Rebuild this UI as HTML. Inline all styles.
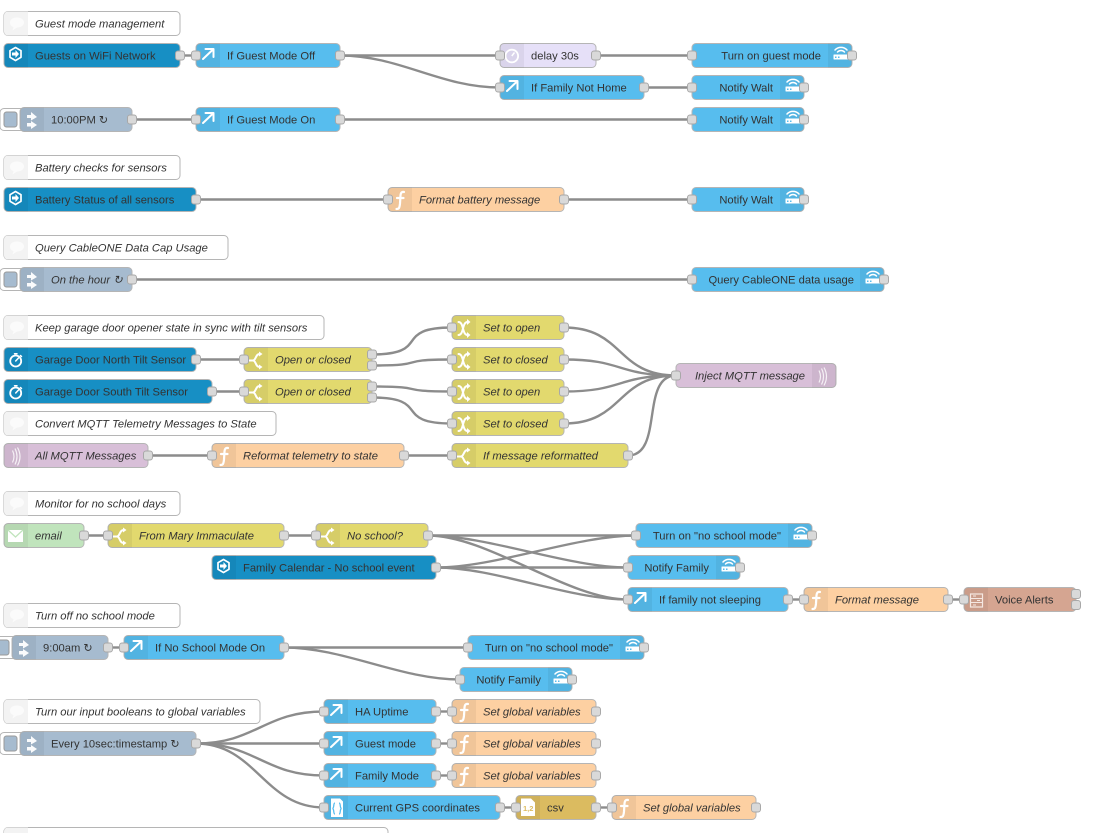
<!DOCTYPE html>
<html><head><meta charset="utf-8">
<style>
html,body{margin:0;padding:0;background:#fff;overflow:hidden}
svg{display:block;font-family:"Liberation Sans",Arial,sans-serif;font-size:11.2px;filter:blur(.3px)}
.w{fill:none;stroke:#8c8c8c;stroke-width:2.4}
.b{stroke:#b5b5b5;stroke-width:1}
text{fill:#333}
.i{font-style:italic}
.e{text-anchor:end}
.lb{fill:#57bdee}.db{fill:#178fc4}.ij{fill:#a6bbcf}.ye{fill:#e2d96e}.or{fill:#fdd0a2}.pu{fill:#d8bfd8}.gr{fill:#c0e4bc}.cm{fill:#fff}.de{fill:#e6e0f8}.cs{fill:#dbbb60}.vo{fill:#d5a591}
.p{fill:#d9d9d9;stroke:#a8a8a8;stroke-width:1}
.s{fill:none;stroke:#fff;stroke-linecap:round;stroke-linejoin:round}
</style></head><body>
<svg width="1096" height="833" viewBox="0 0 1096 833" xmlns="http://www.w3.org/2000/svg">
<defs>
<rect id="p" class="p" x="-4.500" y="-4.500" width="9" height="9" rx="2.500"/>
<path id="z" d="M4,-12H24V12H4A4,4 0 0 1 0,8V-8A4,4 0 0 1 4,-12Z" fill="#000" fill-opacity=".05"/>
<path id="zr" d="M0,-12H20A4,4 0 0 1 24,-8V8A4,4 0 0 1 20,12H0Z" fill="#000" fill-opacity=".05"/>
<g id="arrow"><use href="#z"/><path class="s" stroke-width="2" d="M7,3.500L17,-6M9.500,-6.500H17.500V1.500"/></g>
<g id="hex"><use href="#z"/><path class="s" stroke-width="1.700" d="M11.500,-8L17,-4.800V1.800L11.500,5L6,1.800V-4.800Z"/><path d="M8,-3H11.500V-5.500L15,-1.500L11.500,2.500V0H8Z" fill="#fff"/></g>
<g id="timer"><use href="#z"/><circle class="s" stroke-width="1.800" cx="11.700" cy="1.500" r="5.500"/><path class="s" stroke-width="1.500" d="M11.700,1.500L14.500,-1.500M10.500,-5.800H13M16.500,-4L17.500,-3"/></g>
<g id="inject"><use href="#z"/><path d="M7,-4.500H11V-7.500L17,-2.500L11,1V-1.500H7ZM7,3.500H11V1.500L17,5.500L11,9.500V7H7Z" fill="#fff" opacity=".95"/></g>
<g id="func"><use href="#z"/><path class="s" stroke-width="2.200" d="M8.500,9.500C11,9.500 11.500,8.500 12,4L12.500,-4C12.800,-7 14,-8 16,-7.500M9,-1.500H15.500"/></g>
<g id="switch"><use href="#z"/><path class="s" stroke-width="2" d="M5,1H9C12,1 11.500,-5.500 15.500,-5.500M9,1C12,1 11.500,7.500 15.500,7.500"/><path d="M15,-8L18.500,-5.500L15,-3ZM15,5L18.500,7.500L15,10Z" fill="#fff"/></g>
<g id="change"><use href="#z"/><path class="s" stroke-width="2" d="M6.500,-5.500C12,-5.500 10,7.500 15.500,7.500M6.500,7.500C12,7.500 10,-5.500 15.500,-5.500"/><path d="M15,-8.500L18.500,-5.500L15,-2.500ZM15,4.500L18.500,7.500L15,10.500Z" fill="#fff"/></g>
<g id="delay"><use href="#z"/><circle cx="11.800" cy="0.500" r="6.300" fill="none" stroke="#fff" stroke-width="1.800"/><path d="M11.800,0.500L14.500,-3" stroke="#fff" stroke-width="1.500" fill="none"/></g>
<g id="comm"><path d="M4,-12H24V12H4A4,4 0 0 1 0,8V-8A4,4 0 0 1 4,-12Z" fill="#f3f3f3"/><path d="M6,-1C6,-4.500 9.500,-6 13,-6C17,-6 20,-4 20,-1C20,2 17,4 13,4L8.500,7L9.500,3.500C7,3 6,1 6,-1Z" fill="#fbfbfb"/></g>
<g id="wifi"><use href="#zr"/><path class="s" stroke-width="1.500" d="M7,-5.500C10,-9 16,-9 19,-5.500M9.500,-3.500C11.500,-5.500 14.500,-5.500 16.500,-3.500"/><rect x="5.500" y="-1" width="15" height="5" rx=".5" fill="#fff"/><rect x="7" y="1" width="1.500" height="1.500" fill="#57bdee"/><rect x="10" y="1" width="1.500" height="1.500" fill="#57bdee"/></g>
<g id="radio"><use href="#z"/><path d="M8.500,-5Q11.500,1 8.500,7M11,-7Q15,1 11,9M13.500,-8Q18.500,1 13.500,10" fill="none" stroke="#fff" stroke-width="1.200" opacity=".8"/></g>
<g id="radior"><use href="#zr"/><path d="M7,-5Q10,1 7,7M9.500,-7Q13.500,1 9.500,9M12,-8Q17,1 12,10" fill="none" stroke="#fff" stroke-width="1.200" opacity=".8"/></g>
<g id="mail"><use href="#z"/><rect x="4" y="-5.500" width="15" height="12" fill="#fff"/><path d="M4,-5.500L11.500,1.500L19,-5.500" fill="none" stroke="#c0e4bc" stroke-width="1.300"/></g>
<g id="json"><use href="#z"/><path d="M7,-9H16L19,-6V9.500H7Z" fill="#fff"/><path d="M11,-4.500C9,-4.500 10.500,0.500 8.500,1C10.500,1.500 9,6.500 11,6.500M15,-4.500C17,-4.500 15.500,0.500 17.500,1C15.500,1.500 17,6.500 15,6.500" fill="none" stroke="#57bdee" stroke-width="1.300"/></g>
<g id="csvi"><use href="#z"/><path d="M5,-9H15L19,-5V8.500H5Z" fill="#fff"/></g>
<g id="voice"><use href="#z"/><rect x="6.500" y="-5.500" width="12" height="13" fill="none" stroke="#f5e8e2" stroke-width="1.200"/><path d="M6.500,-1H18.500M6.500,3H18.500M9,-3.500H12M13,1H16M9,5.500H12" stroke="#f5e8e2" stroke-width="1" fill="none"/></g>
</defs>
<g transform="translate(0,.5)">
<!-- wires -->
<g class="w">
<path d="M180 55H196"/>
<path d="M340 55H500"/>
<path d="M340 55C400 55 440 87 500 87"/>
<path d="M596 55H692"/>
<path d="M644 87H692"/>
<path d="M132 119H196"/>
<path d="M340 119H692"/>
<path d="M196 199H388"/>
<path d="M564 199H692"/>
<path d="M132 279H692"/>
<path d="M196 359H244"/>
<path d="M212 391H244"/>
<path d="M372 354C432 354 392 327 452 327"/>
<path d="M372 365C432 365 392 359 452 359"/>
<path d="M372 386C432 386 392 391 452 391"/>
<path d="M372 397C432 397 392 423 452 423"/>
<path d="M564 327C624 327 616 375 676 375"/>
<path d="M564 359C624 359 616 375 676 375"/>
<path d="M564 391C624 391 616 375 676 375"/>
<path d="M564 423C624 423 616 375 676 375"/>
<path d="M628 455C664 455 640 375 676 375"/>
<path d="M148 455H212"/>
<path d="M404 455H452"/>
<path d="M84 535H108"/>
<path d="M284 535H316"/>
<path d="M428 535H636"/>
<path d="M428 535C488 535 568 567 628 567"/>
<path d="M428 535C488 535 568 599 628 599"/>
<path d="M436 567C496 567 576 535 636 535"/>
<path d="M436 567H628"/>
<path d="M436 567C496 567 568 599 628 599"/>
<path d="M788 599H804"/>
<path d="M948 599H964"/>
<path d="M108 647H124"/>
<path d="M284 647H468"/>
<path d="M284 647C344 647 400 679 460 679"/>
<path d="M196 743C256 743 264 711 324 711"/>
<path d="M196 743H324"/>
<path d="M196 743C256 743 264 775 324 775"/>
<path d="M196 743C256 743 264 807 324 807"/>
<path d="M436 711H452"/>
<path d="M436 743H452"/>
<path d="M436 775H452"/>
<path d="M500 807H516"/>
<path d="M596 807H612"/>
</g>
<!-- comments -->
<g transform="translate(4,23)"><rect class="cm b" y="-12" width="176" height="24" rx="4"/><use href="#comm"/><text class="i" x="31" y="4">Guest mode management</text></g>
<g transform="translate(4,167)"><rect class="cm b" y="-12" width="176" height="24" rx="4"/><use href="#comm"/><text class="i" x="31" y="4">Battery checks for sensors</text></g>
<g transform="translate(4,247)"><rect class="cm b" y="-12" width="224" height="24" rx="4"/><use href="#comm"/><text class="i" x="31" y="4">Query CableONE Data Cap Usage</text></g>
<g transform="translate(4,327)"><rect class="cm b" y="-12" width="320" height="24" rx="4"/><use href="#comm"/><text class="i" x="31" y="4">Keep garage door opener state in sync with tilt sensors</text></g>
<g transform="translate(4,423)"><rect class="cm b" y="-12" width="272" height="24" rx="4"/><use href="#comm"/><text class="i" x="31" y="4">Convert MQTT Telemetry Messages to State</text></g>
<g transform="translate(4,503)"><rect class="cm b" y="-12" width="176" height="24" rx="4"/><use href="#comm"/><text class="i" x="31" y="4">Monitor for no school days</text></g>
<g transform="translate(4,615)"><rect class="cm b" y="-12" width="176" height="24" rx="4"/><use href="#comm"/><text class="i" x="31" y="4">Turn off no school mode</text></g>
<g transform="translate(4,711)"><rect class="cm b" y="-12" width="256" height="24" rx="4"/><use href="#comm"/><text class="i" x="31" y="4">Turn our input booleans to global variables</text></g>
<g transform="translate(4,839)"><rect class="cm b" y="-12" width="384" height="24" rx="4"/><use href="#comm"/></g>
<!-- row 55 -->
<g transform="translate(4,55)"><rect class="db b" y="-12" width="176" height="24" rx="4"/><use href="#hex"/><text x="31" y="4">Guests on WiFi Network</text><use href="#p" x="176"/></g>
<g transform="translate(196,55)"><rect class="lb b" y="-12" width="144" height="24" rx="4"/><use href="#arrow"/><text x="31" y="4">If Guest Mode Off</text><use href="#p"/><use href="#p" x="144"/></g>
<g transform="translate(500,55)"><rect class="de b" y="-12" width="96" height="24" rx="4"/><use href="#delay"/><text x="31" y="4">delay 30s</text><use href="#p"/><use href="#p" x="96"/></g>
<g transform="translate(692,55)"><rect class="lb b" y="-12" width="160" height="24" rx="4"/><use href="#wifi" x="136"/><text class="e" x="129" y="4">Turn on guest mode</text><use href="#p"/><use href="#p" x="160"/></g>
<!-- row 87 -->
<g transform="translate(500,87)"><rect class="lb b" y="-12" width="144" height="24" rx="4"/><use href="#arrow"/><text x="31" y="4">If Family Not Home</text><use href="#p"/><use href="#p" x="144"/></g>
<g transform="translate(692,87)"><rect class="lb b" y="-12" width="112" height="24" rx="4"/><use href="#wifi" x="88"/><text class="e" x="81" y="4">Notify Walt</text><use href="#p"/><use href="#p" x="112"/></g>
<!-- row 119 -->
<g transform="translate(20,119)"><rect x="-20" y="-11" width="26" height="22" rx="4" fill="#fff" stroke="#b5b5b5"/><rect x="-16" y="-7.500" width="13" height="15" rx="2.500" class="ij" stroke="#999"/><rect class="ij b" y="-12" width="112" height="24" rx="4"/><use href="#inject"/><text x="31" y="4">10:00PM ↻</text><use href="#p" x="112"/></g>
<g transform="translate(196,119)"><rect class="lb b" y="-12" width="144" height="24" rx="4"/><use href="#arrow"/><text x="31" y="4">If Guest Mode On</text><use href="#p"/><use href="#p" x="144"/></g>
<g transform="translate(692,119)"><rect class="lb b" y="-12" width="112" height="24" rx="4"/><use href="#wifi" x="88"/><text class="e" x="81" y="4">Notify Walt</text><use href="#p"/><use href="#p" x="112"/></g>
<!-- row 199 -->
<g transform="translate(4,199)"><rect class="db b" y="-12" width="192" height="24" rx="4"/><use href="#hex"/><text x="31" y="4">Battery Status of all sensors</text><use href="#p" x="192"/></g>
<g transform="translate(388,199)"><rect class="or b" y="-12" width="176" height="24" rx="4"/><use href="#func"/><text class="i" x="31" y="4">Format battery message</text><use href="#p"/><use href="#p" x="176"/></g>
<g transform="translate(692,199)"><rect class="lb b" y="-12" width="112" height="24" rx="4"/><use href="#wifi" x="88"/><text class="e" x="81" y="4">Notify Walt</text><use href="#p"/><use href="#p" x="112"/></g>
<!-- row 279 -->
<g transform="translate(20,279)"><rect x="-20" y="-11" width="26" height="22" rx="4" fill="#fff" stroke="#b5b5b5"/><rect x="-16" y="-7.500" width="13" height="15" rx="2.500" class="ij" stroke="#999"/><rect class="ij b" y="-12" width="112" height="24" rx="4"/><use href="#inject"/><text class="i" x="31" y="4">On the hour ↻</text><use href="#p" x="112"/></g>
<g transform="translate(692,279)"><rect class="lb b" y="-12" width="192" height="24" rx="4"/><use href="#wifi" x="168"/><text class="e" x="162" y="4">Query CableONE data usage</text><use href="#p"/><use href="#p" x="192"/></g>
<!-- garage -->
<g transform="translate(4,359)"><rect class="db b" y="-12" width="192" height="24" rx="4"/><use href="#timer"/><text x="31" y="4">Garage Door North Tilt Sensor</text><use href="#p" x="192"/></g>
<g transform="translate(244,359)"><rect class="ye b" y="-12" width="128" height="24" rx="4"/><use href="#switch"/><text class="i" x="31" y="4">Open or closed</text><use href="#p"/><use href="#p" x="128" y="-5"/><use href="#p" x="128" y="6"/></g>
<g transform="translate(4,391)"><rect class="db b" y="-12" width="208" height="24" rx="4"/><use href="#timer"/><text x="31" y="4">Garage Door South Tilt Sensor</text><use href="#p" x="208"/></g>
<g transform="translate(244,391)"><rect class="ye b" y="-12" width="128" height="24" rx="4"/><use href="#switch"/><text class="i" x="31" y="4">Open or closed</text><use href="#p"/><use href="#p" x="128" y="-5"/><use href="#p" x="128" y="6"/></g>
<g transform="translate(452,327)"><rect class="ye b" y="-12" width="112" height="24" rx="4"/><use href="#change"/><text class="i" x="31" y="4">Set to open</text><use href="#p"/><use href="#p" x="112"/></g>
<g transform="translate(452,359)"><rect class="ye b" y="-12" width="112" height="24" rx="4"/><use href="#change"/><text class="i" x="31" y="4">Set to closed</text><use href="#p"/><use href="#p" x="112"/></g>
<g transform="translate(452,391)"><rect class="ye b" y="-12" width="112" height="24" rx="4"/><use href="#change"/><text class="i" x="31" y="4">Set to open</text><use href="#p"/><use href="#p" x="112"/></g>
<g transform="translate(452,423)"><rect class="ye b" y="-12" width="112" height="24" rx="4"/><use href="#change"/><text class="i" x="31" y="4">Set to closed</text><use href="#p"/><use href="#p" x="112"/></g>
<g transform="translate(676,375)"><rect class="pu b" y="-12" width="160" height="24" rx="4"/><use href="#radior" x="136"/><text class="i e" x="129" y="4">Inject MQTT message</text><use href="#p"/></g>
<g transform="translate(4,455)"><rect class="pu b" y="-12" width="144" height="24" rx="4"/><use href="#radio"/><text class="i" x="31" y="4">All MQTT Messages</text><use href="#p" x="144"/></g>
<g transform="translate(212,455)"><rect class="or b" y="-12" width="192" height="24" rx="4"/><use href="#func"/><text class="i" x="31" y="4">Reformat telemetry to state</text><use href="#p"/><use href="#p" x="192"/></g>
<g transform="translate(452,455)"><rect class="ye b" y="-12" width="176" height="24" rx="4"/><use href="#switch"/><text class="i" x="31" y="4">If message reformatted</text><use href="#p"/><use href="#p" x="176"/></g>
<!-- school -->
<g transform="translate(4,535)"><rect class="gr b" y="-12" width="80" height="24" rx="4"/><use href="#mail"/><text class="i" x="31" y="4">email</text><use href="#p" x="80"/></g>
<g transform="translate(108,535)"><rect class="ye b" y="-12" width="176" height="24" rx="4"/><use href="#switch"/><text class="i" x="31" y="4">From Mary Immaculate</text><use href="#p"/><use href="#p" x="176"/></g>
<g transform="translate(316,535)"><rect class="ye b" y="-12" width="112" height="24" rx="4"/><use href="#switch"/><text class="i" x="31" y="4">No school?</text><use href="#p"/><use href="#p" x="112"/></g>
<g transform="translate(212,567)"><rect class="db b" y="-12" width="224" height="24" rx="4"/><use href="#hex"/><text x="31" y="4">Family Calendar - No school event</text><use href="#p" x="224"/></g>
<g transform="translate(636,535)"><rect class="lb b" y="-12" width="176" height="24" rx="4"/><use href="#wifi" x="152"/><text class="e" x="145" y="4">Turn on &quot;no school mode&quot;</text><use href="#p"/><use href="#p" x="176"/></g>
<g transform="translate(628,567)"><rect class="lb b" y="-12" width="112" height="24" rx="4"/><use href="#wifi" x="88"/><text class="e" x="81" y="4">Notify Family</text><use href="#p"/><use href="#p" x="112"/></g>
<g transform="translate(628,599)"><rect class="lb b" y="-12" width="160" height="24" rx="4"/><use href="#arrow"/><text x="31" y="4">If family not sleeping</text><use href="#p"/><use href="#p" x="160"/></g>
<g transform="translate(804,599)"><rect class="or b" y="-12" width="144" height="24" rx="4"/><use href="#func"/><text class="i" x="31" y="4">Format message</text><use href="#p"/><use href="#p" x="144"/></g>
<g transform="translate(964,599)"><rect class="vo b" y="-12" width="112" height="24" rx="4"/><use href="#voice"/><text x="31" y="4">Voice Alerts</text><use href="#p"/><use href="#p" x="112" y="-5.500"/><use href="#p" x="112" y="5.500"/></g>
<!-- turn off -->
<g transform="translate(12,647)"><rect x="-20" y="-11" width="26" height="22" rx="4" fill="#fff" stroke="#b5b5b5"/><rect x="-16" y="-7.500" width="13" height="15" rx="2.500" class="ij" stroke="#999"/><rect class="ij b" y="-12" width="96" height="24" rx="4"/><use href="#inject"/><text x="31" y="4">9:00am ↻</text><use href="#p" x="96"/></g>
<g transform="translate(124,647)"><rect class="lb b" y="-12" width="160" height="24" rx="4"/><use href="#arrow"/><text x="31" y="4">If No School Mode On</text><use href="#p"/><use href="#p" x="160"/></g>
<g transform="translate(468,647)"><rect class="lb b" y="-12" width="176" height="24" rx="4"/><use href="#wifi" x="152"/><text class="e" x="145" y="4">Turn on &quot;no school mode&quot;</text><use href="#p"/><use href="#p" x="176"/></g>
<g transform="translate(460,679)"><rect class="lb b" y="-12" width="112" height="24" rx="4"/><use href="#wifi" x="88"/><text class="e" x="81" y="4">Notify Family</text><use href="#p"/><use href="#p" x="112"/></g>
<!-- booleans -->
<g transform="translate(20,743)"><rect x="-20" y="-11" width="26" height="22" rx="4" fill="#fff" stroke="#b5b5b5"/><rect x="-16" y="-7.500" width="13" height="15" rx="2.500" class="ij" stroke="#999"/><rect class="ij b" y="-12" width="176" height="24" rx="4"/><use href="#inject"/><text x="31" y="4">Every 10sec:timestamp ↻</text><use href="#p" x="176"/></g>
<g transform="translate(324,711)"><rect class="lb b" y="-12" width="112" height="24" rx="4"/><use href="#arrow"/><text x="31" y="4">HA Uptime</text><use href="#p"/><use href="#p" x="112"/></g>
<g transform="translate(324,743)"><rect class="lb b" y="-12" width="112" height="24" rx="4"/><use href="#arrow"/><text x="31" y="4">Guest mode</text><use href="#p"/><use href="#p" x="112"/></g>
<g transform="translate(324,775)"><rect class="lb b" y="-12" width="112" height="24" rx="4"/><use href="#arrow"/><text x="31" y="4">Family Mode</text><use href="#p"/><use href="#p" x="112"/></g>
<g transform="translate(324,807)"><rect class="lb b" y="-12" width="176" height="24" rx="4"/><use href="#json"/><text x="31" y="4">Current GPS coordinates</text><use href="#p"/><use href="#p" x="176"/></g>
<g transform="translate(452,711)"><rect class="or b" y="-12" width="144" height="24" rx="4"/><use href="#func"/><text class="i" x="31" y="4">Set global variables</text><use href="#p"/><use href="#p" x="144"/></g>
<g transform="translate(452,743)"><rect class="or b" y="-12" width="144" height="24" rx="4"/><use href="#func"/><text class="i" x="31" y="4">Set global variables</text><use href="#p"/><use href="#p" x="144"/></g>
<g transform="translate(452,775)"><rect class="or b" y="-12" width="144" height="24" rx="4"/><use href="#func"/><text class="i" x="31" y="4">Set global variables</text><use href="#p"/><use href="#p" x="144"/></g>
<g transform="translate(516,807)"><rect class="cs b" y="-12" width="80" height="24" rx="4"/><use href="#csvi"/><text x="7" y="3.500" style="font-size:7.500px;font-weight:bold;fill:#dbbb60">1,2</text><text x="31" y="4">csv</text><use href="#p"/><use href="#p" x="80"/></g>
<g transform="translate(612,807)"><rect class="or b" y="-12" width="144" height="24" rx="4"/><use href="#func"/><text class="i" x="31" y="4">Set global variables</text><use href="#p"/><use href="#p" x="144"/></g>
</g>
</svg>
</body></html>
